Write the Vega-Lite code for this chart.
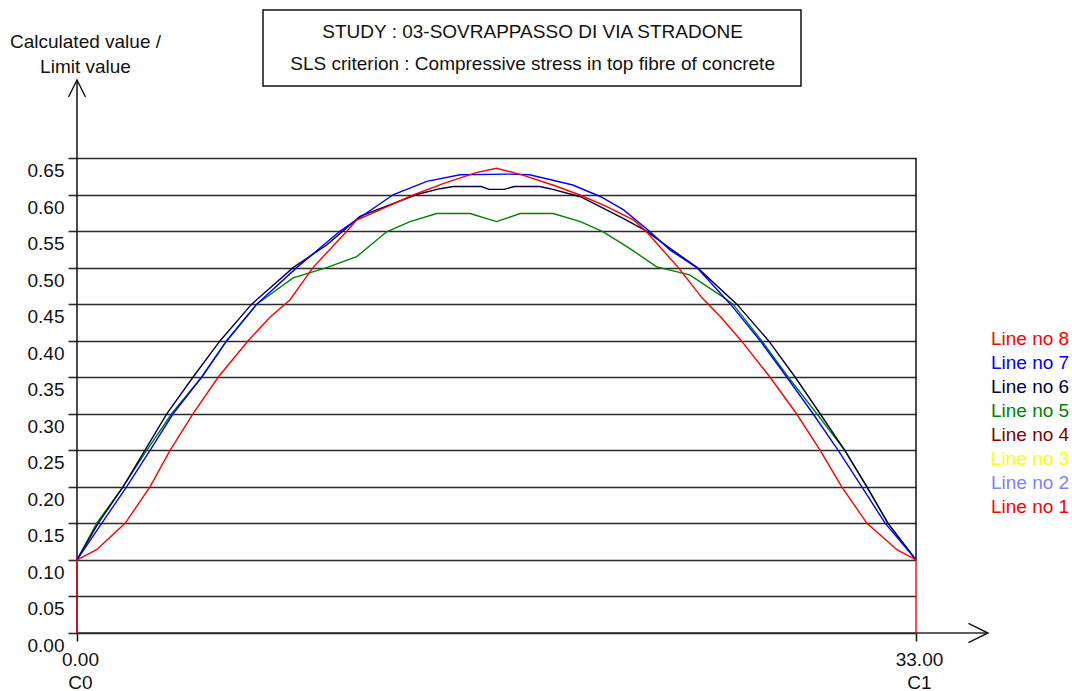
{
  "$schema": "https://vega.github.io/schema/vega-lite/v6.json",
  "width": 839,
  "height": 475,
  "autosize": "none",
  "padding": {"left": 77, "top": 158, "right": 156, "bottom": 58},
  "background": "white",
  "config": {
    "view": {"stroke": null},
    "font": "Liberation Sans",
    "axis": {"labelFont": "Liberation Sans", "titleFont": "Liberation Sans", "labelFontSize": 19, "titleFontSize": 19, "titleFontWeight": "normal", "labelColor": "#111", "titleColor": "#111"},
    "legend": {"labelFont": "Liberation Sans", "labelFontSize": 19}
  },
  "datasets": {
    "curves": [
      {"line": "Line no 5", "x": 0, "v": 0.10},
      {"line": "Line no 5", "x": 0.77, "v": 0.15},
      {"line": "Line no 5", "x": 1.81, "v": 0.20},
      {"line": "Line no 5", "x": 2.74, "v": 0.25},
      {"line": "Line no 5", "x": 3.72, "v": 0.30},
      {"line": "Line no 5", "x": 4.9, "v": 0.35},
      {"line": "Line no 5", "x": 5.89, "v": 0.40},
      {"line": "Line no 5", "x": 7.07, "v": 0.45},
      {"line": "Line no 5", "x": 8.5, "v": 0.486},
      {"line": "Line no 5", "x": 9.82, "v": 0.50},
      {"line": "Line no 5", "x": 11.0, "v": 0.515},
      {"line": "Line no 5", "x": 12.18, "v": 0.549},
      {"line": "Line no 5", "x": 13.1, "v": 0.563},
      {"line": "Line no 5", "x": 14.15, "v": 0.574},
      {"line": "Line no 5", "x": 15.46, "v": 0.574},
      {"line": "Line no 5", "x": 16.5, "v": 0.563},
      {"line": "Line no 5", "x": 17.43, "v": 0.574},
      {"line": "Line no 5", "x": 18.73, "v": 0.574},
      {"line": "Line no 5", "x": 19.8, "v": 0.563},
      {"line": "Line no 5", "x": 20.7, "v": 0.549},
      {"line": "Line no 5", "x": 21.75, "v": 0.526},
      {"line": "Line no 5", "x": 22.8, "v": 0.501},
      {"line": "Line no 5", "x": 24.1, "v": 0.49},
      {"line": "Line no 5", "x": 25.4, "v": 0.46},
      {"line": "Line no 5", "x": 25.8, "v": 0.45},
      {"line": "Line no 5", "x": 26.93, "v": 0.40},
      {"line": "Line no 5", "x": 27.98, "v": 0.35},
      {"line": "Line no 5", "x": 29.1, "v": 0.30},
      {"line": "Line no 5", "x": 30.2, "v": 0.25},
      {"line": "Line no 5", "x": 31.07, "v": 0.20},
      {"line": "Line no 5", "x": 31.9, "v": 0.15},
      {"line": "Line no 5", "x": 33, "v": 0.10},

      {"line": "Line no 6", "x": 0, "v": 0.10},
      {"line": "Line no 6", "x": 0.83, "v": 0.15},
      {"line": "Line no 6", "x": 1.81, "v": 0.20},
      {"line": "Line no 6", "x": 2.67, "v": 0.25},
      {"line": "Line no 6", "x": 3.53, "v": 0.30},
      {"line": "Line no 6", "x": 4.56, "v": 0.35},
      {"line": "Line no 6", "x": 5.63, "v": 0.40},
      {"line": "Line no 6", "x": 6.87, "v": 0.45},
      {"line": "Line no 6", "x": 8.5, "v": 0.50},
      {"line": "Line no 6", "x": 9.82, "v": 0.531},
      {"line": "Line no 6", "x": 11.13, "v": 0.570},
      {"line": "Line no 6", "x": 13.36, "v": 0.60},
      {"line": "Line no 6", "x": 14.28, "v": 0.608},
      {"line": "Line no 6", "x": 14.8, "v": 0.611},
      {"line": "Line no 6", "x": 15.9, "v": 0.611},
      {"line": "Line no 6", "x": 16.2, "v": 0.607},
      {"line": "Line no 6", "x": 16.8, "v": 0.607},
      {"line": "Line no 6", "x": 17.2, "v": 0.611},
      {"line": "Line no 6", "x": 18.2, "v": 0.611},
      {"line": "Line no 6", "x": 18.6, "v": 0.608},
      {"line": "Line no 6", "x": 19.8, "v": 0.597},
      {"line": "Line no 6", "x": 21.5, "v": 0.567},
      {"line": "Line no 6", "x": 22.4, "v": 0.55},
      {"line": "Line no 6", "x": 23.3, "v": 0.527},
      {"line": "Line no 6", "x": 24.4, "v": 0.50},
      {"line": "Line no 6", "x": 25.95, "v": 0.45},
      {"line": "Line no 6", "x": 27.2, "v": 0.40},
      {"line": "Line no 6", "x": 28.25, "v": 0.35},
      {"line": "Line no 6", "x": 29.23, "v": 0.30},
      {"line": "Line no 6", "x": 30.2, "v": 0.25},
      {"line": "Line no 6", "x": 31.07, "v": 0.20},
      {"line": "Line no 6", "x": 31.9, "v": 0.15},
      {"line": "Line no 6", "x": 33, "v": 0.10},

      {"line": "Line no 7", "x": 0, "v": 0.10},
      {"line": "Line no 7", "x": 0.97, "v": 0.15},
      {"line": "Line no 7", "x": 1.95, "v": 0.20},
      {"line": "Line no 7", "x": 2.87, "v": 0.25},
      {"line": "Line no 7", "x": 3.78, "v": 0.30},
      {"line": "Line no 7", "x": 4.9, "v": 0.35},
      {"line": "Line no 7", "x": 5.89, "v": 0.40},
      {"line": "Line no 7", "x": 7.07, "v": 0.45},
      {"line": "Line no 7", "x": 8.64, "v": 0.50},
      {"line": "Line no 7", "x": 10.35, "v": 0.55},
      {"line": "Line no 7", "x": 12.45, "v": 0.60},
      {"line": "Line no 7", "x": 13.76, "v": 0.618},
      {"line": "Line no 7", "x": 15.07, "v": 0.627},
      {"line": "Line no 7", "x": 17.0, "v": 0.628},
      {"line": "Line no 7", "x": 17.8, "v": 0.627},
      {"line": "Line no 7", "x": 19.5, "v": 0.613},
      {"line": "Line no 7", "x": 20.6, "v": 0.597},
      {"line": "Line no 7", "x": 21.5, "v": 0.579},
      {"line": "Line no 7", "x": 22.54, "v": 0.549},
      {"line": "Line no 7", "x": 23.33, "v": 0.524},
      {"line": "Line no 7", "x": 24.38, "v": 0.50},
      {"line": "Line no 7", "x": 25.7, "v": 0.45},
      {"line": "Line no 7", "x": 26.87, "v": 0.40},
      {"line": "Line no 7", "x": 27.92, "v": 0.35},
      {"line": "Line no 7", "x": 28.95, "v": 0.30},
      {"line": "Line no 7", "x": 29.94, "v": 0.25},
      {"line": "Line no 7", "x": 30.87, "v": 0.20},
      {"line": "Line no 7", "x": 31.79, "v": 0.15},
      {"line": "Line no 7", "x": 33, "v": 0.10},

      {"line": "Line no 8", "x": 0, "v": 0.0},
      {"line": "Line no 8", "x": 0, "v": 0.10},
      {"line": "Line no 8", "x": 0.77, "v": 0.114},
      {"line": "Line no 8", "x": 1.89, "v": 0.15},
      {"line": "Line no 8", "x": 2.87, "v": 0.20},
      {"line": "Line no 8", "x": 3.66, "v": 0.25},
      {"line": "Line no 8", "x": 4.56, "v": 0.30},
      {"line": "Line no 8", "x": 5.55, "v": 0.35},
      {"line": "Line no 8", "x": 6.73, "v": 0.40},
      {"line": "Line no 8", "x": 7.59, "v": 0.432},
      {"line": "Line no 8", "x": 8.38, "v": 0.456},
      {"line": "Line no 8", "x": 9.28, "v": 0.50},
      {"line": "Line no 8", "x": 10.62, "v": 0.55},
      {"line": "Line no 8", "x": 11.0, "v": 0.565},
      {"line": "Line no 8", "x": 12.18, "v": 0.583},
      {"line": "Line no 8", "x": 13.2, "v": 0.599},
      {"line": "Line no 8", "x": 14.4, "v": 0.615},
      {"line": "Line no 8", "x": 15.7, "v": 0.630},
      {"line": "Line no 8", "x": 16.5, "v": 0.636},
      {"line": "Line no 8", "x": 17.5, "v": 0.627},
      {"line": "Line no 8", "x": 18.8, "v": 0.612},
      {"line": "Line no 8", "x": 19.8, "v": 0.599},
      {"line": "Line no 8", "x": 20.8, "v": 0.584},
      {"line": "Line no 8", "x": 21.9, "v": 0.565},
      {"line": "Line no 8", "x": 22.4, "v": 0.549},
      {"line": "Line no 8", "x": 23.65, "v": 0.50},
      {"line": "Line no 8", "x": 24.6, "v": 0.458},
      {"line": "Line no 8", "x": 25.3, "v": 0.433},
      {"line": "Line no 8", "x": 26.15, "v": 0.399},
      {"line": "Line no 8", "x": 27.26, "v": 0.35},
      {"line": "Line no 8", "x": 28.3, "v": 0.30},
      {"line": "Line no 8", "x": 29.23, "v": 0.25},
      {"line": "Line no 8", "x": 30.08, "v": 0.20},
      {"line": "Line no 8", "x": 31.07, "v": 0.15},
      {"line": "Line no 8", "x": 32.25, "v": 0.114},
      {"line": "Line no 8", "x": 33, "v": 0.10},
      {"line": "Line no 8", "x": 33, "v": 0.0}
    ]
  },
  "layer": [
    {
      "data": {"values": [{}]},
      "mark": {"type": "rule", "color": "#111", "strokeWidth": 1.5, "clip": false},
      "encoding": {"x": {"datum": 0}, "y": {"datum": 0}, "y2": {"datum": 0.7567}}
    },
    {
      "data": {"values": [{}]},
      "mark": {"type": "rule", "color": "#111", "strokeWidth": 1.5, "clip": false},
      "encoding": {"x": {"datum": 33}, "y": {"datum": 0.1}, "y2": {"datum": 0.65}}
    },
    {
      "data": {"values": [{}]},
      "mark": {"type": "rule", "color": "#2a2a2a", "strokeWidth": 1.6, "clip": false},
      "encoding": {"y": {"datum": 0}, "x": {"datum": 0}, "x2": {"datum": 35.83}}
    },
    {
      "data": {"values": [{}]},
      "mark": {"type": "point", "shape": "M-1,2L0,0L1,2", "size": 289, "filled": false, "stroke": "#111", "strokeWidth": 1.4, "opacity": 1, "clip": false},
      "encoding": {"x": {"datum": 0}, "y": {"datum": 0.7567}}
    },
    {
      "data": {"values": [{}]},
      "mark": {"type": "point", "shape": "M-2,-1L0,0L-2,1", "size": 380, "filled": false, "stroke": "#111", "strokeWidth": 1.4, "opacity": 1, "clip": false},
      "encoding": {"x": {"datum": 35.83}, "y": {"datum": 0}}
    },
    {
      "data": {"name": "curves"},
      "mark": {"type": "line", "strokeWidth": 1.4, "interpolate": "linear", "clip": false},
      "encoding": {
        "x": {
          "field": "x", "type": "quantitative",
          "scale": {"domain": [0, 33], "nice": false, "zero": false},
          "axis": {
            "title": null, "values": [0, 33], "tickCount": 50, "grid": false, "domain": false,
            "tickSize": 8, "tickColor": "#111", "tickWidth": 1.5,
            "labelExpr": "datum.value == 0 ? ['0.00', 'C0'] : ['33.00', 'C1']",
            "labelLineHeight": 23, "labelBaseline": "top", "labelPadding": 9, "labelOffset": 3,
            "labelFlush": false, "labelOverlap": false
          }
        },
        "y": {
          "field": "v", "type": "quantitative",
          "scale": {"domain": [0, 0.65], "nice": false},
          "axis": {
            "title": ["Calculated value /", "Limit value"],
            "titleAngle": 0, "titleAlign": "center", "titleBaseline": "alphabetic",
            "titleX": 8, "titleY": -111, "titleLineHeight": 25,
            "values": [0, 0.05, 0.1, 0.15, 0.2, 0.25, 0.3, 0.35, 0.4, 0.45, 0.5, 0.55, 0.6, 0.65],
            "tickCount": 50,
            "format": ".2f", "grid": true, "gridColor": "#2a2a2a", "gridWidth": 1.6, "gridOpacity": 1,
            "domain": false, "tickSize": 9, "tickColor": "#2a2a2a", "tickWidth": 1.6,
            "labelBaseline": "top", "labelOffset": 3.5, "labelPadding": 4, "labelFlush": false, "labelOverlap": false
          }
        },
        "color": {
          "field": "line", "type": "nominal",
          "scale": {
            "domain": ["Line no 8", "Line no 7", "Line no 6", "Line no 5", "Line no 4", "Line no 3", "Line no 2", "Line no 1"],
            "range": ["#ff0000", "#0000ff", "#000040", "#008000", "#800000", "#ffff00", "#8080ff", "#ff0000"]
          },
          "legend": {
            "title": null, "orient": "none", "legendX": 895, "legendY": 171,
            "symbolOpacity": 0, "symbolSize": 1, "symbolStrokeWidth": 0, "labelOffset": 0,
            "rowPadding": 4, "padding": 0, "labelFontSize": 19,
            "labelLimit": 200,
            "values": ["Line no 8", "Line no 7", "Line no 6", "Line no 5", "Line no 4", "Line no 3", "Line no 2", "Line no 1"],
            "labelBaseline": "middle",
            "direction": "vertical",
            "encode": {"labels": {"update": {"fill": {"scale": "color", "field": "value"}}}}
          }
        },
        "order": {"value": null}
      }
    },
    {
      "data": {"values": [{}]},
      "mark": {"type": "rect", "fill": "white", "stroke": "#111", "strokeWidth": 1.5, "clip": false},
      "encoding": {"x": {"datum": 7.316}, "x2": {"datum": 28.477}, "y": {"datum": 0.8525}, "y2": {"datum": 0.7485}}
    },
    {
      "data": {"values": [{}]},
      "mark": {"type": "text", "font": "Liberation Sans", "fontSize": 19, "color": "#111", "align": "center", "baseline": "middle", "clip": false},
      "encoding": {"x": {"datum": 17.92}, "y": {"datum": 0.8224}, "text": {"value": "STUDY : 03-SOVRAPPASSO DI VIA STRADONE"}}
    },
    {
      "data": {"values": [{}]},
      "mark": {"type": "text", "font": "Liberation Sans", "fontSize": 19, "color": "#111", "align": "center", "baseline": "middle", "clip": false},
      "encoding": {"x": {"datum": 17.92}, "y": {"datum": 0.7786}, "text": {"value": "SLS criterion : Compressive stress in top fibre of concrete"}}
    }
  ]
}
